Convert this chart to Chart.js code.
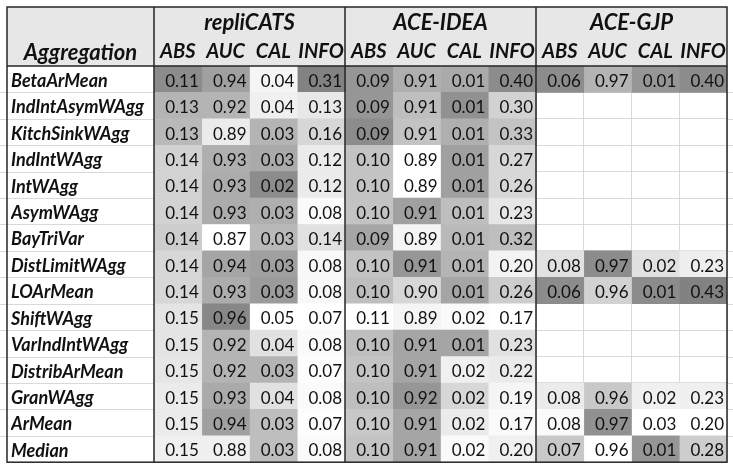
<!DOCTYPE html>
<html><head><meta charset="utf-8">
<script src="https://cdn.jsdelivr.net/npm/chart.js@4"></script>
<style>html,body{margin:0;padding:0;background:#fff}#wrap{width:733px;height:473px;position:relative}</style>
</head><body><div id="wrap"><canvas id="c"></canvas></div>
<script>
// ---------- data ----------
const aggregations = ['BetaArMean','IndIntAsymWAgg','KitchSinkWAgg','IndIntWAgg','IntWAgg','AsymWAgg','BayTriVar','DistLimitWAgg','LOArMean','ShiftWAgg','VarIndIntWAgg','DistribArMean','GranWAgg','ArMean','Median'];
const groups = ['repliCATS','ACE-IDEA','ACE-GJP'];
const metrics = ['ABS','AUC','CAL','INFO'];

const repliABS  = [0.11,0.13,0.13,0.14,0.14,0.14,0.14,0.14,0.14,0.15,0.15,0.15,0.15,0.15,0.15];
const repliAUC  = [0.94,0.92,0.89,0.93,0.93,0.93,0.87,0.94,0.93,0.96,0.92,0.92,0.93,0.94,0.88];
const repliCAL  = [0.04,0.04,0.03,0.03,0.02,0.03,0.03,0.03,0.03,0.05,0.04,0.03,0.04,0.03,0.03];
const repliINFO = [0.31,0.13,0.16,0.12,0.12,0.08,0.14,0.08,0.08,0.07,0.08,0.07,0.08,0.07,0.08];
const ideaABS   = [0.09,0.09,0.09,0.10,0.10,0.10,0.09,0.10,0.10,0.11,0.10,0.10,0.10,0.10,0.10];
const ideaAUC   = [0.91,0.91,0.91,0.89,0.89,0.91,0.89,0.91,0.90,0.89,0.91,0.91,0.92,0.91,0.91];
const ideaCAL   = [0.01,0.01,0.01,0.01,0.01,0.01,0.01,0.01,0.01,0.02,0.01,0.02,0.02,0.02,0.02];
const ideaINFO  = [0.40,0.30,0.33,0.27,0.26,0.23,0.32,0.20,0.26,0.17,0.23,0.22,0.19,0.17,0.20];
const gjpABS    = [0.06,null,null,null,null,null,null,0.08,0.06,null,null,null,0.08,0.08,0.07];
const gjpAUC    = [0.97,null,null,null,null,null,null,0.97,0.96,null,null,null,0.96,0.97,0.96];
const gjpCAL    = [0.01,null,null,null,null,null,null,0.02,0.01,null,null,null,0.02,0.03,0.01];
const gjpINFO   = [0.40,null,null,null,null,null,null,0.23,0.43,null,null,null,0.23,0.20,0.28];

// ---------- styles: grey level of each cell (conditional formatting shade) ----------
const shadeRepliABS  = [140,180,185,210,210,210,205,215,215,228,228,230,235,235,240];
const shadeRepliAUC  = [160,180,235,175,172,172,255,165,172,135,180,180,170,160,240];
const shadeRepliCAL  = [245,240,180,170,140,175,185,160,155,255,225,180,225,190,190];
const shadeRepliINFO = [130,232,215,235,235,250,225,248,248,255,250,253,250,253,250];
const shadeIdeaABS   = [150,150,140,195,195,195,165,195,190,255,190,195,190,200,195];
const shadeIdeaAUC   = [175,190,195,255,255,160,245,150,215,245,165,165,150,165,165];
const shadeIdeaCAL   = [170,145,175,160,160,190,185,180,165,250,165,240,215,235,250];
const shadeIdeaINFO  = [140,210,195,215,215,230,190,243,205,255,225,235,245,250,240];
const shadeGjpABS    = [140,255,255,255,255,255,255,225,140,255,255,255,235,250,200];
const shadeGjpAUC    = [180,255,255,255,255,255,255,140,210,255,255,255,200,145,255];
const shadeGjpCAL    = [150,255,255,255,255,255,255,225,140,255,255,255,240,255,150];
const shadeGjpINFO   = [140,255,255,255,255,255,255,238,130,255,255,255,240,255,205];

const columns = [repliABS,repliAUC,repliCAL,repliINFO,ideaABS,ideaAUC,ideaCAL,ideaINFO,gjpABS,gjpAUC,gjpCAL,gjpINFO];
const shades  = [shadeRepliABS,shadeRepliAUC,shadeRepliCAL,shadeRepliINFO,shadeIdeaABS,shadeIdeaAUC,shadeIdeaCAL,shadeIdeaINFO,shadeGjpABS,shadeGjpAUC,shadeGjpCAL,shadeGjpINFO];

const FONT = 'Lato, "Open Sans", sans-serif';
const TEXT = '#111111';
const BORDER = '#262626';
const LIGHT = '#d9d9d9';
const HEADER_H = 59;   // header band height above the cells
const LABEL_W = 147;   // width of the "Aggregation" column (incl. left inset)

const datasets = columns.map((vals, j) => ({
  label: groups[Math.floor(j / 4)] + ' ' + metrics[j % 4],
  data: vals.map(v => v == null ? null : [j, j + 1]),
  cellValues: vals,
  backgroundColor: shades[j].map(g => `rgb(${g},${g},${g})`),
  grouped: false,
  barPercentage: 1,
  categoryPercentage: 1,
  borderWidth: 0,
  borderSkipped: false
}));

const tablePlugin = {
  id: 'tablePlugin',
  beforeDraw(chart) {
    const {ctx, chartArea: ca} = chart;
    ctx.save();
    ctx.fillStyle = '#fff';
    ctx.fillRect(0, 0, chart.width, chart.height);
    const left = ca.left - LABEL_W;
    ctx.fillStyle = '#e7e7e7';
    ctx.fillRect(left, ca.top - HEADER_H, ca.right - left, HEADER_H);
    ctx.strokeStyle = LIGHT;
    ctx.lineWidth = 1;
    const n = aggregations.length;
    const rowH = (ca.bottom - ca.top) / n;
    for (let i = 1; i < n; i++) {
      const yy = Math.round(ca.top + i * rowH) + 0.5;
      ctx.beginPath();
      ctx.moveTo(0, yy); ctx.lineTo(ca.left, yy);
      ctx.moveTo(ca.right, yy); ctx.lineTo(chart.width, yy);
      ctx.stroke();
    }
    ctx.restore();
  },
  afterDatasetsDraw(chart) {
    const {ctx} = chart;
    ctx.save();
    ctx.font = '17px ' + FONT;
    ctx.fillStyle = TEXT;
    ctx.textAlign = 'right';
    ctx.textBaseline = 'middle';
    chart.data.datasets.forEach((ds, di) => {
      const meta = chart.getDatasetMeta(di);
      meta.data.forEach((el, i) => {
        const v = ds.cellValues[i];
        if (v == null || !el) return;
        const r = Math.max(el.x, el.base);
        ctx.fillText(v.toFixed(2), r - 3, el.y + 2);
      });
    });
    ctx.restore();
  },
  afterDraw(chart) {
    const {ctx, chartArea: ca, scales: {x}} = chart;
    const left = ca.left - LABEL_W;
    const top = ca.top - HEADER_H;
    ctx.save();
    ctx.fillStyle = TEXT;
    ctx.textAlign = 'center';
    ctx.textBaseline = 'middle';
    ctx.font = 'italic bold 22px ' + FONT;
    ctx.fillText('Aggregation', (left + ca.left) / 2, ca.top - 13);
    groups.forEach((g, gi) => {
      const cx = (x.getPixelForValue(gi * 4) + x.getPixelForValue(gi * 4 + 4)) / 2;
      ctx.font = 'italic bold 22px ' + FONT;
      ctx.fillText(g, cx, ca.top - 43);
      metrics.forEach((m, mi) => {
        const j = gi * 4 + mi;
        const c = (x.getPixelForValue(j) + x.getPixelForValue(j + 1)) / 2;
        ctx.font = 'italic bold 20px ' + FONT;
        ctx.fillText(m, c, ca.top - 14);
      });
    });
    ctx.strokeStyle = BORDER;
    ctx.lineWidth = 1.5;
    ctx.strokeRect(left, top, ca.right - left, ca.bottom - top);
    ctx.beginPath();
    ctx.moveTo(left, ca.top); ctx.lineTo(ca.right, ca.top);
    [0, 4, 8].forEach(v => {
      const px = x.getPixelForValue(v);
      ctx.moveTo(px, top); ctx.lineTo(px, ca.bottom);
    });
    ctx.stroke();
    ctx.restore();
  }
};

new Chart(document.getElementById('c'), {
  type: 'bar',
  data: { labels: aggregations, datasets },
  options: {
    indexAxis: 'y',
    responsive: true,
    maintainAspectRatio: false,
    animation: false,
    layout: { padding: { left: 11, top: 66, right: 6, bottom: 7 } },
    plugins: { legend: { display: false }, tooltip: { enabled: false } },
    scales: {
      x: {
        type: 'linear', min: 0, max: 12,
        ticks: { display: false, stepSize: 1 },
        grid: { color: LIGHT, drawTicks: false, lineWidth: 1 },
        border: { display: false },
        afterFit: s => { s.height = 0; }
      },
      y: {
        type: 'category',
        offset: true,
        grid: { offset: true, color: LIGHT, drawTicks: false, lineWidth: 1 },
        border: { display: false },
        ticks: {
          crossAlign: 'far', padding: 0, labelOffset: 2, color: TEXT,
          font: { family: FONT, size: 18, weight: 'bold', style: 'italic' }
        },
        afterFit: s => { s.width = LABEL_W - 4; }
      }
    }
  },
  plugins: [tablePlugin]
});
</script></body></html>
